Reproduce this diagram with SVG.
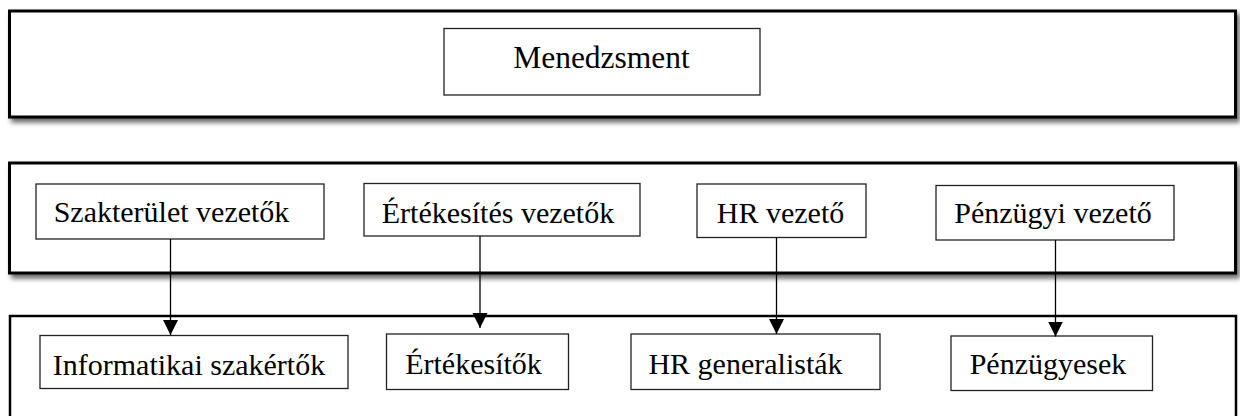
<svg xmlns="http://www.w3.org/2000/svg" width="1240" height="416" viewBox="0 0 1240 416">
  <defs>
    <filter id="sh" x="-5%" y="-20%" width="110%" height="150%">
      <feDropShadow dx="3" dy="4" stdDeviation="2.5" flood-color="#000" flood-opacity="0.6"/>
    </filter>
    <marker id="arr" markerUnits="userSpaceOnUse" markerWidth="16" markerHeight="16" refX="15" refY="7.5" orient="auto">
      <path d="M0,0 L15,7.5 L0,15 z" fill="#000"/>
    </marker>
    <style>
      .band { fill: #fff; stroke: #000; stroke-width: 3; }
      .box { fill: #fff; stroke: #222; stroke-width: 1.3; }
      .lbl { font-family: "Liberation Serif", "Times New Roman", serif; font-size: 30px; fill: #000; text-anchor: middle; }
      .conn { stroke: #000; stroke-width: 1.3; fill: none; }
    </style>
  </defs>

  <g id="band-top">
    <rect class="band" x="9.5" y="11" width="1226" height="106" filter="url(#sh)"/>
  </g>
  <g id="band-middle">
    <rect class="band" x="9.5" y="163" width="1226" height="110" filter="url(#sh)"/>
  </g>
  <g id="band-bottom">
    <rect class="band" x="10" y="316" width="1226" height="120" style="stroke-width:2.5"/>
  </g>

  <g id="menedzsment">
    <rect class="box" x="444" y="28.5" width="316" height="66.5"/>
    <text class="lbl" x="601.5" y="68" style="font-size:31.5px">Menedzsment</text>
  </g>

  <g id="szakterulet-vezetok">
    <rect class="box" x="36" y="184" width="288" height="55"/>
    <text class="lbl" x="171.5" y="222">Szakterület vezetők</text>
  </g>
  <g id="ertekesites-vezetok">
    <rect class="box" x="364" y="183.5" width="276" height="52.5"/>
    <text class="lbl" x="498" y="222.5">Értékesítés vezetők</text>
  </g>
  <g id="hr-vezeto">
    <rect class="box" x="697" y="184" width="169" height="53.5"/>
    <text class="lbl" x="780.5" y="222.5">HR vezető</text>
  </g>
  <g id="penzugyi-vezeto">
    <rect class="box" x="936" y="185.5" width="238" height="54.5"/>
    <text class="lbl" x="1053" y="222.5">Pénzügyi vezető</text>
  </g>

  <g id="informatikai-szakertok">
    <rect class="box" x="40" y="335.5" width="308" height="53"/>
    <text class="lbl" x="189" y="375">Informatikai szakértők</text>
  </g>
  <g id="ertekesitok">
    <rect class="box" x="386.5" y="334" width="182" height="55.5"/>
    <text class="lbl" x="473.5" y="373.5">Értékesítők</text>
  </g>
  <g id="hr-generalistak">
    <rect class="box" x="631" y="334" width="249" height="55.5"/>
    <text class="lbl" x="745.5" y="373.5">HR generalisták</text>
  </g>
  <g id="penzugyesek">
    <rect class="box" x="951" y="336" width="201.5" height="54.5"/>
    <text class="lbl" x="1048" y="374">Pénzügyesek</text>
  </g>

  <g id="connectors">
    <path class="conn" d="M170.5,239 V335" marker-end="url(#arr)"/>
    <path class="conn" d="M480,236 V328" marker-end="url(#arr)"/>
    <path class="conn" d="M776.5,237.5 V334" marker-end="url(#arr)"/>
    <path class="conn" d="M1055.5,240 V336.5" marker-end="url(#arr)"/>
  </g>
</svg>
